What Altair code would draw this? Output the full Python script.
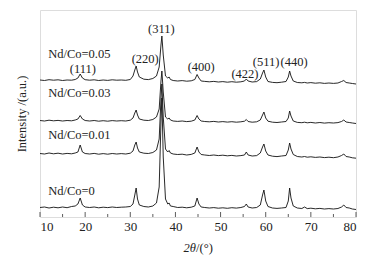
import altair as alt
import pandas as pd

two_theta = [
    10, 11, 12, 13, 14, 15, 16, 17, 17.8, 18.4,
    18.9, 19.4, 20, 21, 22, 23, 24, 25, 26, 27,
    28, 29, 30, 30.6, 31.0, 31.3, 31.6, 32.0, 33, 34,
    35, 35.8, 36.4, 36.8, 37.0, 37.3, 37.8, 38.3, 38.6, 38.9,
    39.5, 40.5, 41.5, 42.5, 43.5, 44.3, 44.8, 45.2, 45.7, 46.5,
    47.5, 48.5, 49.5, 50.5, 51.5, 52.5, 53.5, 54.5, 55.3, 55.7,
    56.1, 57, 58, 58.8, 59.3, 59.6, 60.0, 60.5, 61.5, 62.5,
    63.5, 64.5, 65.0, 65.3, 65.6, 66.1, 67, 68, 68.6, 69.2,
    70, 71, 72, 73, 74, 75, 76, 76.8, 77.3, 77.8,
    78.5, 79.2, 80,
]

nd_0 = [
    9.5, 10, 9, 9.8, 9.2, 10, 9.3, 10.5, 11, 13,
    19, 12, 10, 9.5, 10, 9.2, 9.8, 9.4, 10, 9.5,
    9.8, 10, 10.5, 13, 22, 29, 18, 12, 10.5, 10,
    11, 14, 30, 95, 119, 60, 18, 13, 14, 11,
    10.5, 9.5, 9.8, 9.2, 9.8, 11, 19, 13, 10, 9.5,
    9, 9.4, 8.8, 9.2, 8.7, 9.3, 8.9, 9.5, 10.5, 13,
    10, 9, 9.5, 12, 22, 27, 16, 10.5, 9, 8.6,
    9, 9.5, 16, 29, 19, 11, 9, 8.5, 10, 8.4,
    8.8, 8.2, 8.6, 8, 8.4, 8, 8.5, 10, 12, 9.5,
    9, 8, 7.5,
]

nd_001 = [
    63.5, 63, 64, 63.2, 63.8, 63, 63.6, 63.2, 64, 65,
    72, 65, 63.5, 63, 63.6, 62.8, 63.4, 62.8, 63.5, 63,
    63.4, 63, 63.8, 66, 72, 75, 69, 65, 63.8, 63.5,
    64.5, 67, 78, 118, 133, 100, 68, 65, 66.5, 64,
    63, 62.5, 62.8, 62, 62.6, 64, 70, 65, 62.5, 62,
    61.5, 62, 61.4, 61.8, 61.2, 61.6, 61, 61.4, 62, 65,
    62, 61, 61.4, 64, 70, 73, 66, 62, 60.8, 60.4,
    61, 61.5, 67, 74, 68, 62.5, 60.5, 60, 60.5, 59.8,
    60.2, 59.6, 60, 59.4, 59.8, 59.3, 60, 61.5, 63, 60.5,
    60, 59.2, 58.8,
]

nd_003 = [
    96.5, 96, 96.8, 96.2, 96.6, 96, 96.5, 96.2, 97, 98,
    101.5, 98, 96.5, 96, 96.5, 95.8, 96.3, 95.8, 96.4, 96,
    96.3, 96, 96.8, 99, 104, 107, 102, 98, 96.8, 96.5,
    97.5, 100, 108, 136, 146, 125, 100, 98, 99, 97,
    96, 95.6, 96, 95.4, 95.8, 97, 101.5, 98, 96, 95.5,
    95.2, 95.6, 95, 95.4, 94.9, 95.3, 94.8, 95.2, 95.8, 97.5,
    95.5, 94.8, 95.2, 97, 102, 105, 99, 95.8, 94.8, 94.5,
    95, 95.5, 99, 106, 101, 96, 94.6, 94.3, 94.8, 94.2,
    94.6, 94, 94.5, 93.9, 94.3, 94, 94.4, 95.5, 97, 95,
    94.5, 94, 93.5,
]

nd_005 = [
    137, 136.5, 137.3, 136.8, 137.2, 136.5, 137, 136.8, 137.5, 139,
    143, 139, 137.3, 136.8, 137.2, 136.5, 137, 136.6, 137.2, 136.8,
    137, 136.7, 137.5, 141, 147, 151, 145, 140, 137.8, 137.4,
    138.5, 141, 150, 172, 181, 162, 141, 139, 140, 137.5,
    136.5, 136, 136.4, 135.8, 136.2, 137.5, 142.5, 139, 136, 135.6,
    135.2, 135.6, 135, 135.4, 134.8, 135.3, 134.8, 135.2, 136, 138,
    136, 135, 135.4, 138, 144, 147, 140, 135.5, 134.6, 134.3,
    134.8, 135.5, 140, 146, 141, 136, 134.5, 134.2, 134.6, 134,
    134.4, 133.8, 134.2, 133.6, 134, 133.6, 134, 135.5, 136.5, 134.5,
    134, 133.5, 133,
]

series_names = ["Nd/Co=0", "Nd/Co=0.01", "Nd/Co=0.03", "Nd/Co=0.05"]
series_values = [nd_0, nd_001, nd_003, nd_005]

# annotation texts (2θ, intensity in a.u.)
label_text = ["Nd/Co=0.05", "Nd/Co=0.03", "Nd/Co=0.01", "Nd/Co=0"]
label_x = [11.8, 11.8, 11.8, 11.8]
label_y = [163, 124, 82, 26]

hkl_text = ["(111)", "(220)", "(311)", "(400)", "(422)", "(511)", "(440)"]
hkl_x = [19.5, 33.3, 36.9, 45.7, 55.4, 60.1, 66.3]
hkl_y = [148, 158, 188, 150, 143, 155, 155]

tick_values = [10, 15, 20, 25, 30, 35, 40, 45, 50, 55, 60, 65, 70, 75, 80]
major_ticks = [10, 20, 30, 40, 50, 60, 70, 80]

for v in series_values:
    assert len(v) == len(two_theta)

rows = []
for name, vals in zip(series_names, series_values):
    for t, i in zip(two_theta, vals):
        rows.append({"two_theta": t, "intensity": i, "sample": name})
df = pd.DataFrame(rows)

W, H = 316, 207
FONT = "Liberation Serif"

xscale = alt.Scale(domain=[10, 80], nice=False, zero=False)
yscale = alt.Scale(domain=[0, 207], nice=False, zero=False)

lines = alt.Chart(df).mark_line(color="#111111", strokeWidth=0.9, clip=True).encode(
    x=alt.X("two_theta:Q", scale=xscale,
            axis=alt.Axis(values=major_ticks, ticks=False, grid=False, domain=False,
                          labelFont=FONT, labelFontSize=13, labelColor="#222222",
                          labelPadding=3, title=None, format="d")),
    y=alt.Y("intensity:Q", scale=yscale,
            axis=alt.Axis(labels=False, ticks=False, grid=False, domain=False,
                          title="Intensity /(a.u.)", titleFont=FONT, titleFontSize=12.5,
                          titleFontWeight="normal", titleColor="#222222", titlePadding=12)),
    detail="sample:N",
)

tick_df = pd.DataFrame({"t": tick_values, "major": [v in major_ticks for v in tick_values]})
ticks_major = alt.Chart(tick_df[tick_df.major]).mark_rule(color="#333333", strokeWidth=0.8).encode(
    x=alt.X("t:Q", scale=xscale), y=alt.value(H), y2=alt.value(H - 5))
ticks_minor = alt.Chart(tick_df[~tick_df.major]).mark_rule(color="#333333", strokeWidth=0.8).encode(
    x=alt.X("t:Q", scale=xscale), y=alt.value(H), y2=alt.value(H - 3))

lab_df = pd.DataFrame({"x": label_x, "y": label_y, "text": label_text})
labels = alt.Chart(lab_df).mark_text(align="left", baseline="middle", font=FONT,
                                      fontSize=12.5, color="#222222").encode(
    x=alt.X("x:Q", scale=xscale), y=alt.Y("y:Q", scale=yscale), text="text:N")

hkl_df = pd.DataFrame({"x": hkl_x, "y": hkl_y, "text": hkl_text})
hkl = alt.Chart(hkl_df).mark_text(align="center", baseline="middle", font=FONT,
                                  fontSize=12.5, color="#222222").encode(
    x=alt.X("x:Q", scale=xscale), y=alt.Y("y:Q", scale=yscale), text="text:N")

title_df = pd.DataFrame({"a": ["2θ"], "b": [" /(°)"]})
xt1 = alt.Chart(title_df).mark_text(align="right", baseline="middle", font=FONT, fontSize=12.5,
                                    fontStyle="italic", color="#222222").encode(
    x=alt.value(156), y=alt.value(238), text="a:N")
xt2 = alt.Chart(title_df).mark_text(align="left", baseline="middle", font=FONT, fontSize=12.5,
                                    color="#222222").encode(
    x=alt.value(156), y=alt.value(238), text="b:N")

chart = alt.layer(lines, ticks_major, ticks_minor, labels, hkl, xt1, xt2).properties(
    width=W, height=H,
    padding={"left": 40, "top": 10, "right": 32, "bottom": 42},
    autosize=alt.AutoSizeParams(type="none"),
).configure_view(stroke="#222222", strokeWidth=1).configure(background="white")

chart.save("out.html", embed_options={"renderer": "svg", "actions": False})
